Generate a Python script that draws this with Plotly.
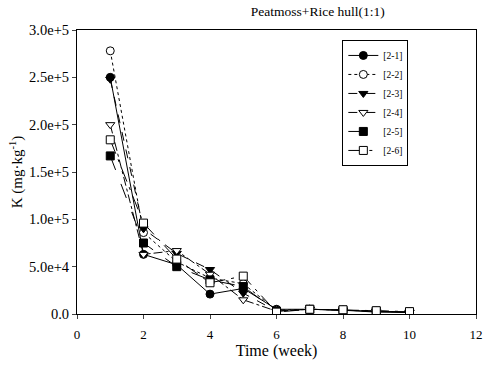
import plotly.graph_objects as go

weeks = [1, 2, 3, 4, 5, 6, 7, 8, 9, 10]
s21 = [250000, 63000, 52000, 21000, 27000, 5000, 5000, 4000, 2000, 1500]
s22 = [278000, 86000, 55000, 38000, 32000, 4000, 5000, 4000, 3000, 2000]
s23 = [248000, 90000, 64000, 47000, 22000, 3000, 5000, 4000, 3000, 2000]
s24 = [200000, 63000, 67000, 42000, 15000, 3000, 5000, 4000, 3000, 2000]
s25 = [167000, 75000, 50000, 36000, 29000, 3000, 5000, 4000, 3000, 2000]
s26 = [184000, 96000, 58000, 33000, 40000, 2000, 5000, 4500, 3500, 2500]
names = ["[2-1]", "[2-2]", "[2-3]", "[2-4]", "[2-5]", "[2-6]"]
xticks = [0, 2, 4, 6, 8, 10, 12]
yticks = [0, 50000, 100000, 150000, 200000, 250000, 300000]
ytext = ["0.0", "5.0e+4", "1.0e+5", "1.5e+5", "2.0e+5", "2.5e+5", "3.0e+5"]

series = [s21, s22, s23, s24, s25, s26]
symbols = ["circle", "circle", "triangle-down", "triangle-down", "square", "square"]
fills = ["black", "white", "black", "white", "black", "white"]
dashes = ["solid", "dot", "dash", "dashdot", "longdash", "longdashdot"]

FONT = "Liberation Serif"

fig = go.Figure()
for nm, ys, sym, fc, ds in zip(names, series, symbols, fills, dashes):
    fig.add_trace(go.Scatter(
        x=weeks, y=ys, name=nm, mode="lines+markers",
        line=dict(color="black", width=1, dash=ds),
        marker=dict(symbol=sym, size=8, color=fc,
                    line=dict(color="black", width=1)),
    ))

fig.update_layout(
    width=492, height=374,
    margin=dict(l=77, r=9, t=30, b=60),
    paper_bgcolor="white", plot_bgcolor="white",
    font=dict(family=FONT, color="black", size=13),
    title=dict(text="Peatmoss+Rice hull(1:1)", x=0.646, xanchor="center", xref="container",
               y=0.983, yanchor="top", font=dict(family=FONT, size=13.5)),
    showlegend=True,
    legend=dict(x=0.665, y=0.965, xanchor="left", yanchor="top",
                bordercolor="black", borderwidth=1, bgcolor="white",
                font=dict(family=FONT, size=9.5), itemwidth=30, tracegroupgap=0),
    xaxis=dict(range=[0, 12], tickvals=xticks, ticks="outside", ticklen=4,
               ticklabelstandoff=4,
               tickfont=dict(family=FONT, size=13),
               showline=True, linecolor="black", linewidth=1, mirror=True,
               showgrid=False, zeroline=False,
               title=dict(text="Time (week)", font=dict(family=FONT, size=16), standoff=4)),
    yaxis=dict(range=[0, 300000], tickvals=yticks, ticktext=ytext, ticks="outside", ticklen=4,
               tickfont=dict(family=FONT, size=14.5),
               showline=True, linecolor="black", linewidth=1, mirror=True,
               showgrid=False, zeroline=False,
               title=dict(text="K (mg·kg<sup>-1</sup>)", font=dict(family=FONT, size=15), standoff=2)),
)

fig.write_html("out.html")
